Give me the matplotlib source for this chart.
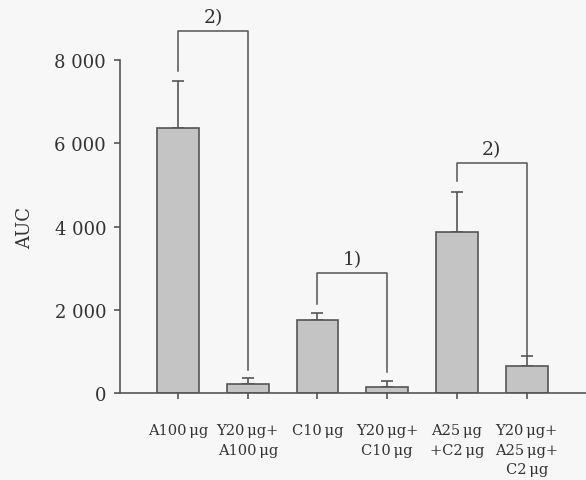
import matplotlib
matplotlib.use('Agg')

import numpy as np
import matplotlib.pyplot as plt

# groups and values
groups = ['A100\u2009μg', 'Y20\u2009μg+\nA100\u2009μg', 'C10\u2009μg',
          'Y20\u2009μg+\nC10\u2009μg', 'A25\u2009μg\n+C2\u2009μg',
          'Y20\u2009μg+\nA25\u2009μg+\nC2\u2009μg']
auc = [6370, 210, 1750, 140, 3870, 650]
auc_err = [1130, 150, 170, 150, 960, 240]

# significance brackets: (left bar, right bar, top, left end, right end, label)
brackets = [
    (0, 1, 8700, 7740, 560, '2)'),
    (2, 3, 2880, 2140, 500, '1)'),
    (4, 5, 5530, 5100, 890, '2)'),
]

line_col = '#555555'
bar_col = '#c4c4c4'

plt.rcParams['font.family'] = ['DejaVu Serif']

fig = plt.figure(figsize=(5.86, 4.81), dpi=100, facecolor='#f7f7f7')
ax = fig.add_axes([0.205, 0.181, 0.795, 0.692])
ax.set_facecolor('#f7f7f7')

x = np.arange(len(groups))
ax.bar(x, auc, width=0.6, color=bar_col, edgecolor=line_col, linewidth=1.2, zorder=2)
ax.errorbar(x, auc, yerr=[np.zeros(len(auc)), auc_err], fmt='none',
            ecolor=line_col, elinewidth=1.2, capsize=4, capthick=1.2, zorder=1)

for i, j, top, lend, rend, lab in brackets:
    ax.plot([i, i, j, j], [lend, top, top, rend], color=line_col, lw=1.1,
            clip_on=False, zorder=3)
    ax.text((i + j) / 2, top + 120, lab, ha='center', va='bottom',
            fontsize=13.5, color='#333333', clip_on=False)

ax.set_xlim(-0.83, 5.85)
ax.set_ylim(0, 8000)
ax.set_yticks([0, 2000, 4000, 6000, 8000])
ax.set_yticklabels(['0', '2 000', '4 000', '6 000', '8 000'])
ax.set_xticks(x)
ax.set_xticklabels(groups, fontsize=10.5, linespacing=1.5, va='top')

for s in ['top', 'right']:
    ax.spines[s].set_visible(False)
for s in ['left', 'bottom']:
    ax.spines[s].set_color(line_col)
    ax.spines[s].set_linewidth(1.2)

ax.tick_params(axis='y', labelsize=13, colors='#333333', length=4, width=1.2,
               color=line_col, pad=6)
ax.tick_params(axis='x', colors='#333333', length=4, width=1.2,
               color=line_col, pad=18)
ax.set_ylabel('AUC', fontsize=13, color='#333333', labelpad=15)

fig.savefig('out.png', dpi=100, facecolor=fig.get_facecolor())
